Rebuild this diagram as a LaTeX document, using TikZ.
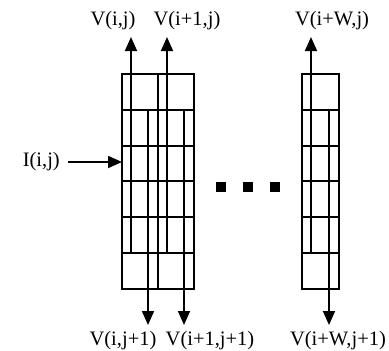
\documentclass[tikz,border=0pt]{standalone}
\usepackage{fontspec}
\setmainfont{Liberation Serif}
\usetikzlibrary{arrows.meta, positioning}

\begin{document}
\begin{tikzpicture}[
    x=1pt, y=-1pt,
    >={Triangle[length=14pt,width=12pt]},
    grid/.style={draw, line width=2pt},
    arr/.style={->, line width=1.8pt},
    lbl/.style={inner sep=0pt, font=\fontsize{20.5}{24}\selectfont},
    dot/.style={fill, minimum size=10pt, inner sep=0pt}
]
    \useasboundingbox (0,0) rectangle (389,351);

    % first column of cells
    \draw[grid] (122,74) rectangle (194,289);
    \foreach \y in {110,146,181,217,253}
        \draw[grid] (122,\y) -- (194,\y);
    \draw[grid] (158,74) -- (158,289);

    % last column of cells
    \draw[grid] (302,74) rectangle (339,289);
    \foreach \y in {110,146,181,217,253}
        \draw[grid] (302,\y) -- (339,\y);

    % dots between the columns
    \foreach \x/\n in {221/1,248/2,275/3}
        \node[dot] (dot\n) at (\x,187) {};

    % labels
    \node[lbl] (vij) at (113,21) {V(i,j)};
    \node[lbl] (vi1j) at (187,21) {V(i+1,j)};
    \node[lbl] (viwj) at (332,21) {V(i+W,j)};
    \node[lbl] (vij1) at (123,341) {V(i,j+1)};
    \node[lbl] (vi1j1) at (210,341) {V(i+1,j+1)};
    \node[lbl] (viwj1) at (338,341) {V(i+W,j+1)};
    \node[lbl, anchor=east] (iij) at (60,162) {I(i,j)};

    % arrow ends
    \coordinate (up1a) at (131,253);  \coordinate (up1b) at (131,37);
    \coordinate (up2a) at (167,253);  \coordinate (up2b) at (167,37);
    \coordinate (up3a) at (311,253);  \coordinate (up3b) at (311,37);
    \coordinate (dn1a) at (148,110);  \coordinate (dn1b) at (148,325);
    \coordinate (dn2a) at (184,110);  \coordinate (dn2b) at (184,325);
    \coordinate (dn3a) at (329,110);  \coordinate (dn3b) at (329,325);
    \coordinate (inp) at (122,162);

    \draw[arr] (up1a) -- (up1b);
    \draw[arr] (up2a) -- (up2b);
    \draw[arr] (up3a) -- (up3b);
    \draw[arr] (dn1a) -- (dn1b);
    \draw[arr] (dn2a) -- (dn2b);
    \draw[arr] (dn3a) -- (dn3b);
    \draw[arr] ([xshift=8pt]iij.east) -- (inp);
\end{tikzpicture}
\end{document}
